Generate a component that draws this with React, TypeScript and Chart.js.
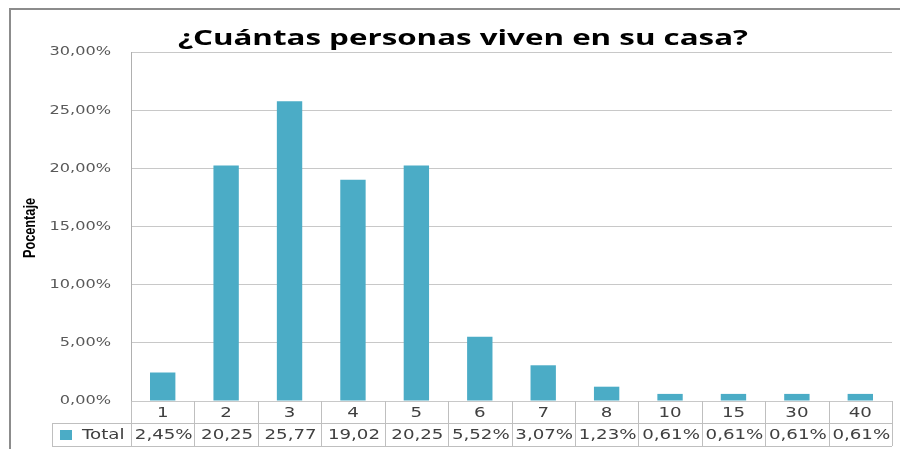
import React, { useEffect, useRef } from "react";
import { Chart, registerables } from "chart.js";
Chart.register(...registerables);

const chartTitle = "¿Cuántas personas viven en su casa?";
const yAxisTitle = "Pocentaje";
const seriesName = "Total";
const categories = ["1", "2", "3", "4", "5", "6", "7", "8", "10", "15", "30", "40"];
const values = [2.45, 20.25, 25.77, 19.02, 20.25, 5.52, 3.07, 1.23, 0.61, 0.61, 0.61, 0.61];
const tableLabels = ["2,45%", "20,25", "25,77", "19,02", "20,25", "5,52%", "3,07%", "1,23%", "0,61%", "0,61%", "0,61%", "0,61%"];
const yMax = 30;
const yStep = 5;

const BAR = "#4bacc6";

function drawText(ctx: CanvasRenderingContext2D, text: string, x: number, y: number, font: string, color: string, sx: number, align: string, baseline: CanvasTextBaseline = "middle") {
  ctx.save();
  ctx.font = font;
  ctx.fillStyle = color;
  ctx.textBaseline = baseline;
  ctx.textAlign = "left";
  const w = ctx.measureText(text).width * sx;
  const left = align === "center" ? x - w / 2 : align === "right" ? x - w : x;
  ctx.translate(left, y);
  ctx.scale(sx, 1);
  ctx.fillText(text, 0, 0);
  ctx.restore();
}

const decorPlugin = {
  id: "decor",
  afterDraw(chart: any) {
    const ctx: CanvasRenderingContext2D = chart.ctx;
    const xs = chart.scales.x;
    const ys = chart.scales.y;
    const area = chart.chartArea;

    // outer frame
    ctx.save();
    ctx.strokeStyle = "#8c8c8c";
    ctx.lineWidth = 2;
    ctx.beginPath();
    ctx.moveTo(10, 449);
    ctx.lineTo(10, 9);
    ctx.lineTo(900, 9);
    ctx.stroke();
    ctx.restore();

    // title
    const titleFont = "bold 22px 'Open Sans'";
    ctx.save();
    ctx.font = titleFont;
    const tw = ctx.measureText(chartTitle).width;
    ctx.restore();
    drawText(ctx, chartTitle, 463, 45, titleFont, "#000000", 570 / tw, "center", "alphabetic");

    // y axis title
    ctx.save();
    ctx.font = "bold 16px 'Liberation Sans'";
    const yw = ctx.measureText(yAxisTitle).width;
    ctx.translate(31, 228);
    ctx.rotate(-Math.PI / 2);
    ctx.scale(60 / yw, 1);
    ctx.fillStyle = "#000000";
    ctx.textAlign = "center";
    ctx.textBaseline = "middle";
    ctx.fillText(yAxisTitle, 0, 0);
    ctx.restore();

    // y tick labels
    for (let v = 0; v <= yMax; v += yStep) {
      const y = ys.getPixelForValue(v);
      const label = v.toFixed(2).replace(".", ",") + "%";
      drawText(ctx, label, 111, y, "13px 'DejaVu Sans'", "#595959", 1.24, "right");
    }

    // data table
    const n = categories.length;
    const cw = (area.right - area.left) / n;
    const r0 = area.bottom;
    const r1 = r0 + 22;
    const r2 = r1 + 23;
    const tableLeft = 52;
    ctx.save();
    ctx.strokeStyle = "#bfbfbf";
    ctx.lineWidth = 1;
    ctx.beginPath();
    ctx.moveTo(tableLeft, r1 + 0.5);
    ctx.lineTo(area.right, r1 + 0.5);
    ctx.moveTo(tableLeft, r2 + 0.5);
    ctx.lineTo(area.right, r2 + 0.5);
    ctx.moveTo(tableLeft + 0.5, r1);
    ctx.lineTo(tableLeft + 0.5, r2);
    for (let i = 0; i <= n; i++) {
      const cx = Math.round(xs.getPixelForValue(0) - cw / 2 + i * cw) + 0.5;
      ctx.moveTo(cx, r0);
      ctx.lineTo(cx, r2);
    }
    ctx.stroke();
    ctx.restore();

    for (let i = 0; i < n; i++) {
      const cx = xs.getPixelForValue(i);
      drawText(ctx, categories[i], cx, (r0 + r1) / 2 + 1, "14px 'DejaVu Sans'", "#404040", 1.3, "center");
      drawText(ctx, tableLabels[i], cx + 1, (r1 + r2) / 2 + 1, "14px 'DejaVu Sans'", "#404040", 1.3, "center");
    }
    // legend key
    ctx.save();
    ctx.fillStyle = BAR;
    ctx.fillRect(60, 430, 12, 10);
    ctx.restore();
    drawText(ctx, seriesName, 82, (r1 + r2) / 2 + 1, "14px 'DejaVu Sans'", "#404040", 1.3, "left");
  },
};

export default function App() {
  const ref = useRef<HTMLCanvasElement>(null);
  useEffect(() => {
    if (!ref.current) return;
    const chart = new Chart(ref.current, {
      type: "bar",
      data: {
        labels: categories,
        datasets: [
          {
            label: seriesName,
            data: values,
            backgroundColor: BAR,
            borderWidth: 0,
            barPercentage: 0.4,
            categoryPercentage: 1,
          },
        ],
      },
      options: {
        animation: false,
        responsive: false,
        devicePixelRatio: 1,
        layout: { padding: { left: 0, top: 52, right: 8, bottom: 0 } },
        plugins: { legend: { display: false }, title: { display: false }, tooltip: { enabled: false } },
        scales: {
          x: {
            ticks: { display: false },
            grid: { display: false },
            border: { display: false },
            afterFit: (s: any) => {
              s.height = 48;
            },
          },
          y: {
            min: 0,
            max: yMax,
            ticks: { display: false, stepSize: yStep },
            grid: { color: "#c8c8c8", drawTicks: false },
            border: { display: true, color: "#b0b0b0" },
            afterFit: (s: any) => {
              s.width = 131;
            },
          },
        },
      },
      plugins: [decorPlugin],
    });
    return () => chart.destroy();
  }, []);
  return (
    <div style={{ position: "absolute", left: 0, top: 0, width: 900, height: 449, background: "#ffffff" }}>
      <canvas ref={ref} width={900} height={449} />
    </div>
  );
}
